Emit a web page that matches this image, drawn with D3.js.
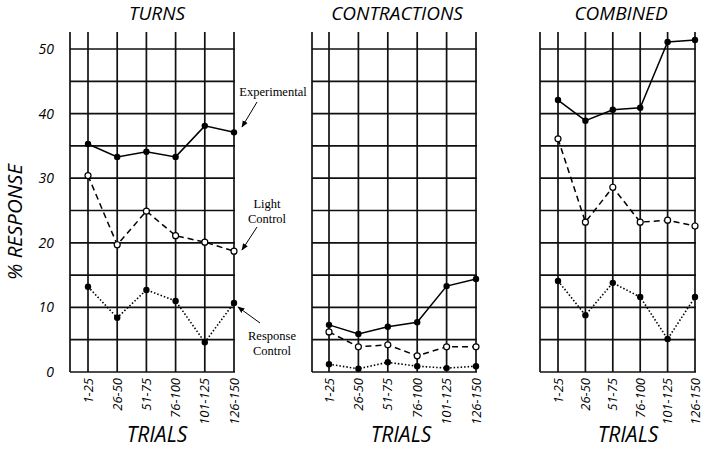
<!DOCTYPE html>
<html><head><meta charset="utf-8">
<script src="https://cdn.jsdelivr.net/npm/d3@7"></script>
<style>
body{margin:0;background:#fff;}
svg{display:block;}
text{font-family:"Open Sans",sans-serif;}
.ann{font-family:"Liberation Serif","Times New Roman",serif;font-size:12.5px;}
</style></head><body>
<svg id="c" width="703" height="449"></svg>
<script>
const categories = ["1-25","26-50","51-75","76-100","101-125","126-150"];
const panels = ["TURNS","CONTRACTIONS","COMBINED"];
const yTicks = [0,10,20,30,40,50];
const gridValues = [0,5,10,15,20,25,30,35,40,45,50];
// values per panel: Turns, Contractions, Combined
const experimental = [
  [35.3,33.3,34.1,33.3,38.1,37.1],
  [7.3,5.9,7.0,7.7,13.3,14.4],
  [42.1,38.9,40.6,40.9,51.1,51.4]
];
const lightControl = [
  [30.4,19.7,24.9,21.1,20.1,18.7],
  [6.2,3.9,4.2,2.5,3.9,3.9],
  [36.1,23.2,28.6,23.2,23.5,22.6]
];
const responseControl = [
  [13.2,8.4,12.7,11.0,4.6,10.7],
  [1.2,0.5,1.5,0.9,0.6,0.9],
  [14.1,8.8,13.8,11.6,5.1,11.6]
];

const svg = d3.select("#c");
const y = d3.scaleLinear().domain([0,50]).range([372,49]);
const topY = 32;
const layout = [
  {left:70, r0:88, r1:234, titleX:157, trialsX:157},
  {left:312, r0:329, r1:476, titleX:397, trialsX:401},
  {left:540, r0:558, r1:695, titleX:621, trialsX:628}
];

panels.forEach((name,pi)=>{
  const L = layout[pi];
  const x = d3.scalePoint().domain(categories).range([L.r0,L.r1]);
  const g = svg.append("g");
  g.selectAll("line.h").data(gridValues).join("line")
    .attr("x1",L.left).attr("x2",L.r1+1)
    .attr("y1",d=>y(d)).attr("y2",d=>y(d))
    .attr("stroke","#111").attr("stroke-width",1.7);
  g.append("line").attr("x1",L.left).attr("x2",L.left).attr("y1",topY).attr("y2",y(0))
    .attr("stroke","#111").attr("stroke-width",1.7);
  g.selectAll("line.v").data(categories).join("line")
    .attr("x1",d=>x(d)).attr("x2",d=>x(d)).attr("y1",topY).attr("y2",y(0))
    .attr("stroke","#111").attr("stroke-width",1.7);
  svg.append("text").attr("x",L.titleX).attr("y",20).attr("text-anchor","middle")
    .attr("font-style","italic").attr("font-size",19).text(name);
  categories.forEach(c=>{
    svg.append("text").attr("transform",`translate(${x(c)+4.5},378) rotate(-90)`)
      .attr("text-anchor","end").attr("font-style","italic").attr("font-size",13).text(c);
  });
  svg.append("text").attr("x",L.trialsX).attr("y",442).attr("text-anchor","middle")
    .attr("font-style","italic").attr("font-size",21).text("TRIALS");

  const line = d3.line().x((d,i)=>x(categories[i])).y(d=>y(d));
  g.append("path").attr("d",line(experimental[pi])).attr("fill","none")
    .attr("stroke","#000").attr("stroke-width",1.5);
  g.append("path").attr("d",line(lightControl[pi])).attr("fill","none")
    .attr("stroke","#000").attr("stroke-width",1.5).attr("stroke-dasharray","6,4");
  g.append("path").attr("d",line(responseControl[pi])).attr("fill","none")
    .attr("stroke","#000").attr("stroke-width",1.6).attr("stroke-dasharray","1.5,2");
  g.selectAll("circle.e").data(experimental[pi]).join("circle")
    .attr("cx",(d,i)=>x(categories[i])).attr("cy",d=>y(d)).attr("r",3.2).attr("fill","#000");
  g.selectAll("circle.r").data(responseControl[pi]).join("circle")
    .attr("cx",(d,i)=>x(categories[i])).attr("cy",d=>y(d)).attr("r",3.2).attr("fill","#000");
  g.selectAll("circle.l").data(lightControl[pi]).join("circle")
    .attr("cx",(d,i)=>x(categories[i])).attr("cy",d=>y(d)).attr("r",3).attr("fill","#fff")
    .attr("stroke","#000").attr("stroke-width",1.2);
});

svg.selectAll("text.yt").data(yTicks).join("text")
  .attr("x",54).attr("y",d=>y(d)+5).attr("text-anchor","end")
  .attr("font-style","italic").attr("font-size",14).text(d=>d);
svg.append("text").attr("transform","translate(22,222) rotate(-90)").attr("text-anchor","middle")
  .attr("font-style","italic").attr("font-size",20.5).text("% RESPONSE");

const defs = svg.append("defs");
defs.append("marker").attr("id","ah").attr("viewBox","0 0 10 10").attr("refX",9).attr("refY",5)
  .attr("markerWidth",7).attr("markerHeight",7).attr("orient","auto")
  .append("path").attr("d","M0,1 L10,5 L0,9 Z").attr("fill","#000");
const ann = [
  {lines:["Experimental"], tx:273, ty:96, ax1:257, ay1:102, ax2:242, ay2:127},
  {lines:["Light","Control"], tx:267, ty:208, ax1:257, ay1:227, ax2:242, ay2:250},
  {lines:["Response","Control"], tx:272, ty:340, ax1:260, ay1:323, ax2:238, ay2:307}
];
ann.forEach(a=>{
  a.lines.forEach((t,i)=>svg.append("text").attr("class","ann").attr("x",a.tx).attr("y",a.ty+i*15)
    .attr("text-anchor","middle").text(t));
  svg.append("line").attr("x1",a.ax1).attr("y1",a.ay1).attr("x2",a.ax2).attr("y2",a.ay2)
    .attr("stroke","#000").attr("stroke-width",1).attr("marker-end","url(#ah)");
});
</script></body></html>
